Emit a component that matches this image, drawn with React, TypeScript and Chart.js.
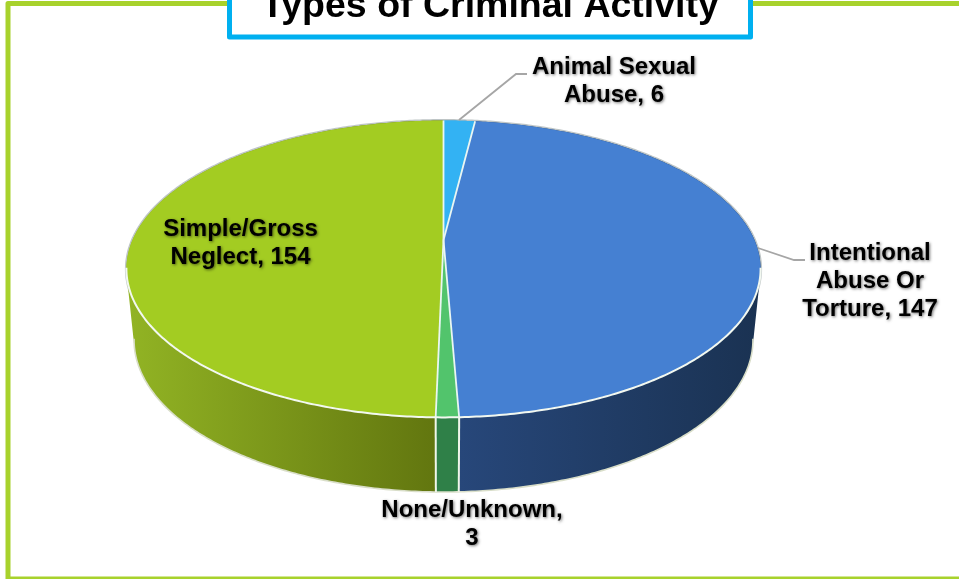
import React, { useEffect, useRef } from "react";
import { Chart, registerables } from "chart.js";

Chart.register(...registerables);

const categories = ["Animal Sexual Abuse", "Intentional Abuse Or Torture", "None/Unknown", "Simple/Gross Neglect"];
const counts = [6, 147, 3, 154];
const topColors = ["#33B2F3", "#4580D2", "#52C46C", "#A3CC22"];
const wallStops = [
  ["#33A0D8", "#2A86B8"],
  ["#27477A", "#1A3252"],
  ["#2F8048", "#2F8048"],
  ["#92B424", "#62760F"],
];
const labelLines = [
  ["Animal Sexual", "Abuse, 6"],
  ["Intentional", "Abuse Or", "Torture, 147"],
  ["None/Unknown,", "3"],
  ["Simple/Gross", "Neglect, 154"],
];
const titleText = "Types of Criminal Activity";

const CX = 443.5;
const P = -0.195;
const topFace = { A: 311, b: 142.8, y0: 240 };
const bottomFace = { A: 303.5, b: 146.2, y0: 310.4 };
const labelAnchors = [
  { x: 614, y: 74 },
  { x: 870, y: 260 },
  { x: 472, y: 517 },
  { x: 240.5, y: 236 },
];
const leaders = [
  [[459, 120], [516, 74], [527, 74]],
  [[758, 248], [794, 260], [805, 260]],
];

function project(face: { A: number; b: number; y0: number }, theta: number) {
  const u = Math.sin(theta);
  const v = -Math.cos(theta);
  const d = 1 + P * v;
  return { x: CX + (face.A * u) / d, y: face.y0 + (face.b * v) / d };
}

function rimPoints(face: any, a0: number, a1: number) {
  const n = Math.max(2, Math.ceil(Math.abs(a1 - a0) / 0.01));
  const pts = [];
  for (let i = 0; i <= n; i++) pts.push(project(face, a0 + ((a1 - a0) * i) / n));
  return pts;
}

function tracePts(ctx: CanvasRenderingContext2D, pts: any[], move = true) {
  pts.forEach((p, i) => {
    if (i === 0 && move) ctx.moveTo(p.x, p.y);
    else ctx.lineTo(p.x, p.y);
  });
}

const pie3d = {
  id: "pie3d",
  beforeDraw(chart: any) {
    const ctx: CanvasRenderingContext2D = chart.ctx;
    ctx.save();
    ctx.fillStyle = "#ffffff";
    ctx.fillRect(0, 0, chart.width, chart.height);
    ctx.strokeStyle = "#A8D22C";
    ctx.lineWidth = 5;
    ctx.lineJoin = "round";
    ctx.strokeRect(8, 3.5, 1000, 575.5);
    ctx.restore();
  },
  beforeDatasetDraw() {
    return false;
  },
  afterDatasetsDraw(chart: any) {
    const ctx: CanvasRenderingContext2D = chart.ctx;
    const arcs = chart.getDatasetMeta(0).data;
    const angles = arcs.map((a: any) => {
      const p = a.getProps(["startAngle", "endAngle"], true);
      return [p.startAngle + Math.PI / 2, p.endAngle + Math.PI / 2];
    });
    ctx.save();

    // soft grey rim round the top face
    ctx.beginPath();
    tracePts(ctx, rimPoints(topFace, 0, Math.PI * 2));
    ctx.closePath();
    ctx.strokeStyle = "#BEC5C6";
    ctx.lineWidth = 3;
    ctx.stroke();

    // side walls: one strip of quads between the two rims for each slice
    angles.forEach(([a0, a1]: number[], i: number) => {
      const top = rimPoints(topFace, a0, a1);
      const bot = rimPoints(bottomFace, a0, a1);
      const all = top.concat(bot).filter((p: any) => p.y > 269);
      const xs = (all.length ? all : top).map((p: any) => p.x);
      const g = ctx.createLinearGradient(Math.min(...xs), 0, Math.max(...xs), 0);
      g.addColorStop(0, wallStops[i][0]);
      g.addColorStop(1, wallStops[i][1]);
      ctx.beginPath();
      for (let k = 0; k < top.length - 1; k++) {
        const tri = [top[k], top[k + 1], bot[k + 1], bot[k]];
        const area = tri.reduce((s: number, p: any, j: number) => {
          const q = tri[(j + 1) % 4];
          return s + p.x * q.y - q.x * p.y;
        }, 0);
        tracePts(ctx, area < 0 ? tri.slice().reverse() : tri);
        ctx.closePath();
      }
      ctx.fillStyle = g;
      ctx.fill();
    });

    // lower rim and the seams between walls
    ctx.beginPath();
    tracePts(ctx, rimPoints(bottomFace, Math.PI * 0.56, Math.PI * 1.44));
    ctx.strokeStyle = "#D9DEC9";
    ctx.lineWidth = 1.6;
    ctx.stroke();
    angles.forEach(([, a1]: number[]) => {
      const n = ((a1 % (Math.PI * 2)) + Math.PI * 2) % (Math.PI * 2);
      if (n < Math.PI * 0.6 || n > Math.PI * 1.4) return;
      const t = project(topFace, a1);
      const b = project(bottomFace, a1);
      ctx.beginPath();
      ctx.moveTo(t.x, t.y);
      ctx.lineTo(b.x, b.y);
      ctx.strokeStyle = "#F0F6EA";
      ctx.lineWidth = 2;
      ctx.stroke();
    });

    // top face
    angles.forEach(([a0, a1]: number[], i: number) => {
      ctx.beginPath();
      ctx.moveTo(CX, topFace.y0);
      tracePts(ctx, rimPoints(topFace, a0, a1), false);
      ctx.closePath();
      ctx.fillStyle = topColors[i];
      ctx.fill();
    });
    angles.forEach(([a0]: number[]) => {
      const p = project(topFace, a0);
      ctx.beginPath();
      ctx.moveTo(CX, topFace.y0);
      ctx.lineTo(p.x, p.y);
      ctx.strokeStyle = "#EAF6F2";
      ctx.lineWidth = 1.8;
      ctx.stroke();
    });
    ctx.beginPath();
    tracePts(ctx, rimPoints(topFace, Math.PI * 0.56, Math.PI * 1.44));
    ctx.strokeStyle = "#F2F8F0";
    ctx.lineWidth = 2;
    ctx.stroke();

    // leader lines
    ctx.strokeStyle = "#A6A6A6";
    ctx.lineWidth = 1.8;
    leaders.forEach((line) => {
      ctx.beginPath();
      line.forEach(([x, y], k) => (k ? ctx.lineTo(x, y) : ctx.moveTo(x, y)));
      ctx.stroke();
    });

    // data labels
    ctx.font = 'bold 24px "Liberation Sans", Arial, sans-serif';
    ctx.textAlign = "center";
    ctx.textBaseline = "alphabetic";
    ctx.fillStyle = "#000000";
    ctx.shadowColor = "rgba(0,0,0,0.55)";
    ctx.shadowBlur = 3;
    ctx.shadowOffsetX = 1;
    ctx.shadowOffsetY = 1;
    labelLines.forEach((lines, i) => {
      lines.forEach((line, k) => {
        ctx.fillText(line, labelAnchors[i].x, labelAnchors[i].y + k * 28);
      });
    });
    ctx.restore();

    // title box
    ctx.save();
    ctx.fillStyle = "#ffffff";
    ctx.fillRect(230, -10, 520, 47);
    ctx.strokeStyle = "#00B0F0";
    ctx.lineWidth = 5;
    ctx.lineJoin = "round";
    ctx.strokeRect(229.5, -10, 521, 47);
    ctx.fillStyle = "#000000";
    ctx.font = 'bold 37.5px "Liberation Sans", Arial, sans-serif';
    ctx.textAlign = "center";
    ctx.fillText(titleText, 490, 17);
    ctx.restore();
  },
};

export default function App() {
  const ref = useRef<HTMLCanvasElement>(null);
  useEffect(() => {
    document.body.style.margin = "0";
    const chart = new Chart(ref.current as HTMLCanvasElement, {
      type: "pie",
      data: {
        labels: categories,
        datasets: [{ data: counts, backgroundColor: topColors }],
      },
      options: {
        animation: false,
        responsive: false,
        plugins: { legend: { display: false }, tooltip: { enabled: false }, title: { display: false } },
      },
      plugins: [pie3d],
    } as any);
    return () => chart.destroy();
  }, []);
  return <canvas ref={ref} width={959} height={579} style={{ display: "block" }} />;
}
